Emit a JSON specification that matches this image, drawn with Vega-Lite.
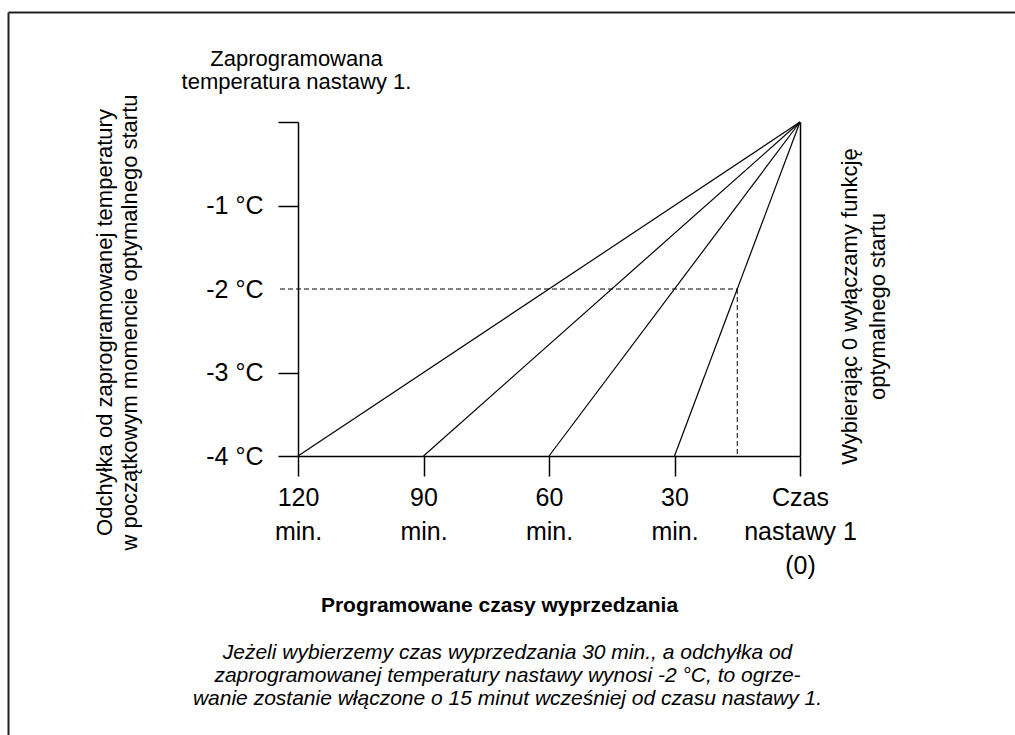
{
  "$schema": "https://vega.github.io/schema/vega-lite/v6.json",
  "width": 502,
  "height": 334,
  "autosize": {"type": "none"},
  "padding": {"left": 298, "top": 122, "right": 215, "bottom": 279},
  "background": "white",
  "datasets": {
    "fan": [
      {"lead": "120 min.", "t": 0, "dev": 0}, {"lead": "120 min.", "t": 120, "dev": -4},
      {"lead": "90 min.", "t": 0, "dev": 0}, {"lead": "90 min.", "t": 90, "dev": -4},
      {"lead": "60 min.", "t": 0, "dev": 0}, {"lead": "60 min.", "t": 60, "dev": -4},
      {"lead": "30 min.", "t": 0, "dev": 0}, {"lead": "30 min.", "t": 30, "dev": -4}
    ],
    "example": [
      {"t": 124.3, "dev": -2, "t2": 15, "dev2": -2},
      {"t": 15, "dev": -2, "t2": 15, "dev2": -4}
    ],
    "frame": [
      {"t": 189.2, "dev": 1.311, "t2": -60, "dev2": 1.311},
      {"t": 189.2, "dev": 1.311, "t2": 189.2, "dev2": -9}
    ]
  },
  "layer": [
    {
      "data": {"name": "frame"},
      "mark": {"type": "rule", "color": "#222222", "strokeWidth": 2, "clip": false},
      "encoding": {
        "x": {
          "field": "t", "type": "quantitative",
          "scale": {"domain": [0, 120], "reverse": true, "nice": false, "zero": false},
          "axis": {
            "orient": "bottom",
            "domain": false, "ticks": false, "labels": false,
            "title": ["Jeżeli wybierzemy czas wyprzedzania 30 min., a odchyłka od", "zaprogramowanej temperatury nastawy wynosi -2 °C, to ogrze-", "wanie zostanie włączone o 15 minut wcześniej od czasu nastawy 1."],
            "titleX": 209,
            "titleY": 202,
            "titleAlign": "center",
            "titleBaseline": "alphabetic",
            "titleAngle": 0,
            "titleFontSize": 21,
            "titleFontStyle": "italic",
            "titleFontWeight": "normal",
            "titleLineHeight": 23
          }
        },
        "x2": {"field": "t2"},
        "y": {"field": "dev", "type": "quantitative", "scale": {"domain": [-4, 0], "nice": false, "zero": false}, "axis": null},
        "y2": {"field": "dev2"}
      }
    },
    {
      "data": {"name": "fan"},
      "mark": {"type": "line", "color": "black", "strokeWidth": 1.2},
      "encoding": {
        "x": {
          "field": "t", "type": "quantitative",
          "scale": {"domain": [0, 120], "reverse": true, "nice": false, "zero": false},
          "axis": {
            "orient": "bottom",
            "values": [120, 90, 60, 30, 0],
            "labelExpr": "datum.value == 0 ? ['Czas', 'nastawy 1', '(0)'] : [datum.value + '', 'min.']",
            "labelFontSize": 25,
            "labelLineHeight": 34,
            "labelPadding": 9,
            "labelFlush": false,
            "labelOverlap": false,
            "tickSize": 20,
            "title": "Programowane czasy wyprzedzania",
            "titleFontWeight": "bold",
            "titleFontSize": 21,
            "titleX": 201,
            "titleY": 155,
            "titleAlign": "center",
            "titleBaseline": "alphabetic"
          }
        },
        "y": {
          "field": "dev", "type": "quantitative",
          "scale": {"domain": [-4, 0], "nice": false, "zero": false},
          "axis": {
            "orient": "left",
            "values": [-4, -3, -2, -1, 0],
            "labelExpr": "datum.value == 0 ? '' : datum.value + ' °C'",
            "labelFontSize": 25,
            "labelPadding": 15,
            "labelFlush": false,
            "labelOverlap": false,
            "tickSize": 20,
            "tickOpacity": {"condition": {"test": "datum.value == -2", "value": 0}, "value": 1},
            "title": ["Odchyłka od zaprogramowanej temperatury", "w początkowym momencie optymalnego startu"],
            "titleAngle": 270,
            "titleX": -187,
            "titleY": 200,
            "titleAlign": "center",
            "titleBaseline": "alphabetic",
            "titleFontSize": 22,
            "titleFontWeight": "normal",
            "titleLineHeight": 25
          }
        },
        "detail": {"field": "lead", "type": "nominal"}
      }
    },
    {
      "data": {"name": "example"},
      "mark": {"type": "rule", "color": "black", "strokeWidth": 1, "strokeDash": [5, 3], "clip": false},
      "encoding": {
        "x": {
          "field": "t", "type": "quantitative",
          "scale": {"domain": [0, 120], "reverse": true, "nice": false, "zero": false},
          "axis": {
            "orient": "top",
            "domain": false, "ticks": false, "labels": false,
            "title": ["Zaprogramowana", "temperatura nastawy 1."],
            "titleX": -2,
            "titleY": -57,
            "titleAlign": "center",
            "titleBaseline": "alphabetic",
            "titleAngle": 0,
            "titleFontSize": 22,
            "titleFontWeight": "normal",
            "titleLineHeight": 23
          }
        },
        "x2": {"field": "t2"},
        "y": {
          "field": "dev", "type": "quantitative",
          "scale": {"domain": [-4, 0], "nice": false, "zero": false},
          "axis": {
            "orient": "right",
            "domain": true, "ticks": false, "labels": false,
            "title": ["Wybierając 0 wyłączamy funkcję", "optymalnego startu"],
            "titleAngle": 270,
            "titleX": 56,
            "titleY": 184,
            "titleAlign": "center",
            "titleBaseline": "alphabetic",
            "titleFontSize": 22,
            "titleFontWeight": "normal",
            "titleLineHeight": 28
          }
        },
        "y2": {"field": "dev2"}
      }
    }
  ],
  "resolve": {"axis": {"x": "independent", "y": "independent"}},
  "config": {
    "view": {"stroke": null},
    "font": "Liberation Sans",
    "axis": {
      "grid": false,
      "domainColor": "black",
      "domainWidth": 1.5,
      "tickColor": "black",
      "tickWidth": 1.5,
      "labelColor": "black",
      "titleColor": "black",
      "labelFont": "Liberation Sans",
      "titleFont": "Liberation Sans"
    }
  }
}
